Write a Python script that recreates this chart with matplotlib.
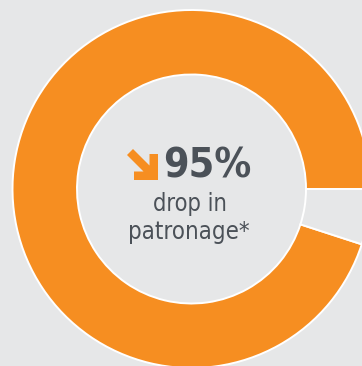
import matplotlib
matplotlib.use("Agg")
import matplotlib.pyplot as plt
from matplotlib.patches import Polygon

# Data
labels = ["Drop", "Remaining"]
values = [95, 5]
headline = "95%"
sub_lines = ["drop in", "patronage*"]

BG = "#e6e7e8"
ORANGE = "#f68e21"
TEXT = "#4b5158"

W, H = 362, 366
fig = plt.figure(figsize=(W / 100, H / 100), dpi=100, facecolor=BG)
ax = fig.add_axes([0, 0, 1, 1])
ax.set_facecolor(BG)

cx, cy = 191.5, H - 189
R_out, R_in = 179, 114.5
ax.pie(values, startangle=0, counterclock=True, center=(cx, cy), radius=R_out,
       colors=[ORANGE, BG],
       wedgeprops=dict(width=R_out - R_in, edgecolor="white", linewidth=1.4),
       frame=True)
ax.set_xlim(0, W)
ax.set_ylim(0, H)
ax.set_aspect("equal")
ax.axis("off")

# arrow icon (decoration)
icon = [(133, 149), (149.5, 165.5), (149.5, 154), (158, 154), (158, 180),
        (134, 180), (134, 171.5), (143.5, 171.5), (127, 155)]
ax.add_patch(Polygon([(x, H - y) for x, y in icon], closed=True,
                     facecolor=ORANGE, edgecolor="none"))

ax.text(207, H - 166.5, headline, ha="center", va="center", fontsize=29.5,
        fontweight="bold", color=TEXT, family="DejaVu Sans", fontstretch="condensed")
ax.text(190, H - 204, sub_lines[0], ha="center", va="center", fontsize=17,
        color=TEXT, family="DejaVu Sans", fontstretch="condensed")
ax.text(189, H - 232, sub_lines[1], ha="center", va="center", fontsize=17.2,
        color=TEXT, family="DejaVu Sans", fontstretch="condensed")

fig.savefig("out.png", dpi=100, facecolor=BG)
